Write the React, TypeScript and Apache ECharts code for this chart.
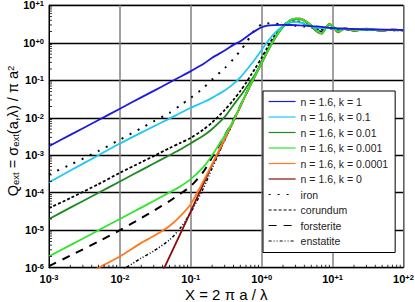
import React, { useEffect, useRef } from "react";
import * as echarts from "echarts";

// Size parameter X = 2 pi a / lambda (shared sampling of all curves)
const xValues = [0.001, 0.002, 0.005, 0.01, 0.02, 0.03, 0.05, 0.07, 0.1, 0.15, 0.2, 0.3, 0.4, 0.5, 0.6, 0.7, 0.8, 1.0, 1.2, 1.5, 2, 2.5, 3, 3.5, 4, 5, 6, 7, 8, 9, 10, 12, 15, 20, 30, 50, 70, 100];

// Q_ext values
const qK1 = [1.74e-3, 3.5e-3, 8.7e-3, 0.0174, 0.035, 0.052, 0.087, 0.122, 0.175, 0.27, 0.4, 0.62, 0.88, 1.1, 1.4, 1.75, 2.05, 2.6, 2.85, 2.97, 3.0, 2.98, 2.95, 2.9, 2.87, 2.8, 2.72, 2.65, 2.58, 2.52, 2.48, 2.43, 2.38, 2.33, 2.28, 2.24, 2.21, 2.19];
const qK01 = [1.9e-4, 3.9e-4, 1.0e-3, 2.05e-3, 4.0e-3, 5.9e-3, 9.5e-3, 0.0132, 0.0185, 0.026, 0.034, 0.053, 0.08, 0.12, 0.18, 0.26, 0.36, 0.65, 1.05, 1.75, 2.8, 3.45, 3.6, 3.45, 3.15, 2.7, 2.5, 2.45, 2.45, 2.45, 2.42, 2.38, 2.34, 2.3, 2.26, 2.23, 2.21, 2.19];
const qK001 = [2.0e-5, 4.0e-5, 1.0e-4, 2.0e-4, 4.0e-4, 6.0e-4, 1.0e-3, 1.4e-3, 2.1e-3, 3.3e-3, 5.0e-3, 0.0105, 0.022, 0.038, 0.062, 0.095, 0.14, 0.3, 0.58, 1.25, 2.7, 3.9, 4.35, 4.3, 3.8, 2.8, 2.1, 1.8, 2.5, 3.1, 2.7, 2.0, 2.4, 2.15, 2.3, 2.2, 2.2, 2.18];
const qK0001 = [2.0e-6, 4.0e-6, 1.0e-5, 2.0e-5, 4.0e-5, 6.0e-5, 1.02e-4, 1.45e-4, 2.3e-4, 4.8e-4, 1.0e-3, 3.3e-3, 8.6e-3, 0.021, 0.043, 0.078, 0.13, 0.29, 0.58, 1.25, 2.7, 3.95, 4.4, 4.35, 3.9, 2.85, 2.1, 1.8, 2.5, 3.15, 2.75, 2.0, 2.4, 2.15, 2.3, 2.15, 2.22, 2.15];
const qK00001 = [2.0e-7, 4.0e-7, 1.0e-6, 2.0e-6, 4.6e-6, 7.0e-6, 1.3e-5, 2.3e-5, 5.0e-5, 2.0e-4, 5.8e-4, 2.7e-3, 8.3e-3, 0.02, 0.042, 0.077, 0.128, 0.285, 0.57, 1.23, 2.68, 3.95, 4.4, 4.38, 3.95, 2.9, 2.05, 1.78, 2.5, 3.2, 2.7, 1.95, 2.45, 2.1, 2.35, 2.1, 2.25, 2.12];
const qK0 = [3.1e-13, 5.0e-12, 1.95e-10, 3.1e-9, 5.0e-8, 2.5e-7, 1.95e-6, 7.5e-6, 3.2e-5, 1.7e-4, 5.5e-4, 2.6e-3, 8.2e-3, 0.02, 0.042, 0.076, 0.127, 0.284, 0.57, 1.22, 2.67, 3.95, 4.4, 4.4, 4.0, 2.92, 2.0, 1.75, 2.5, 3.25, 2.7, 1.9, 2.5, 2.05, 2.4, 2.05, 2.28, 2.1];
const qIron = [3.1e-4, 5.6e-4, 1.3e-3, 2.6e-3, 5.3e-3, 8.0e-3, 0.0135, 0.021, 0.034, 0.062, 0.105, 0.21, 0.37, 0.62, 0.98, 1.55, 2.2, 3.1, 3.3, 3.25, 3.05, 2.95, 2.85, 2.78, 2.72, 2.62, 2.55, 2.5, 2.46, 2.43, 2.4, 2.35, 2.3, 2.26, 2.22, 2.18, 2.16, 2.14];
const qCorundum = [3.9e-5, 7.2e-5, 1.7e-4, 3.4e-4, 6.5e-4, 9.5e-4, 1.55e-3, 2.1e-3, 2.9e-3, 4.8e-3, 7.5e-3, 0.016, 0.03, 0.052, 0.085, 0.135, 0.2, 0.4, 0.75, 1.5, 2.7, 3.5, 3.7, 3.5, 3.2, 2.6, 2.3, 2.3, 2.5, 2.6, 2.5, 2.3, 2.3, 2.25, 2.2, 2.2, 2.2, 2.18];
const qForsterite = [1.1e-6, 2.1e-6, 5.0e-6, 1.0e-5, 2.1e-5, 3.3e-5, 6.0e-5, 9.2e-5, 1.5e-4, 3.6e-4, 8.8e-4, 3.3e-3, 8.8e-3, 0.021, 0.043, 0.078, 0.13, 0.3, 0.6, 1.3, 2.75, 3.9, 4.3, 4.2, 3.7, 2.8, 2.1, 2.0, 2.4, 2.8, 2.7, 2.2, 2.3, 2.2, 2.25, 2.15, 2.2, 2.15];
const qEnstatite = [8e-8, 1.6e-7, 4e-7, 8e-7, 1.8e-6, 2.8e-6, 5.5e-6, 1.1e-5, 3.0e-5, 1.3e-4, 4.5e-4, 2.5e-3, 7.8e-3, 0.02, 0.042, 0.076, 0.127, 0.29, 0.58, 1.25, 2.7, 3.9, 4.35, 4.3, 3.8, 2.8, 2.0, 1.9, 2.5, 3.0, 2.8, 2.1, 2.35, 2.2, 2.3, 2.15, 2.2, 2.15];

const legendNames = [
  "n = 1.6, k = 1",
  "n = 1.6, k = 0.1",
  "n = 1.6, k = 0.01",
  "n = 1.6, k = 0.001",
  "n = 1.6, k = 0.0001",
  "n = 1.6, k = 0",
  "iron",
  "corundum",
  "forsterite",
  "enstatite",
];

// axis ranges and tick decades
const xMin = 1e-3;
const xMax = 1e2;
const yMin = 1e-6;
const yMax = 1e1;
const xDecades = [-3, -2, -1, 0, 1];
const yDecades = [-6, -5, -4, -3, -2, -1, 0];
const minorMultipliers = [2, 3, 4, 5, 6, 7, 8, 9];

const FONT = "'Liberation Sans', Arial, Helvetica, sans-serif";

function powLabel(v: number) {
  const e = Math.round(Math.log10(v));
  return `{b|10}{s|${e >= 0 ? "+" : ""}${e}}`;
}

const labelRich = {
  b: { fontSize: 11, fontWeight: "bold", fontFamily: FONT, color: "#000", lineHeight: 11 },
  s: { fontSize: 7.5, fontWeight: "bold", fontFamily: FONT, color: "#000", lineHeight: 6, verticalAlign: "top" },
};

function lineSeries(name: string, values: number[], color: string, width: number, type: any) {
  return {
    type: "line",
    name,
    data: xValues.map((x, i) => [x, values[i]]),
    symbol: "none",
    showSymbol: false,
    smooth: 0.25,
    clip: true,
    silent: true,
    lineStyle: { color, width, type, cap: "butt" },
    itemStyle: { color },
  };
}

export default function App() {
  const ref = useRef<HTMLDivElement>(null);
  useEffect(() => {
    if (!ref.current) return;
    const chart = echarts.init(ref.current, undefined, { renderer: "svg" });

    const bottomMinor: number[][] = [];
    xDecades.forEach((d) => minorMultipliers.forEach((m) => bottomMinor.push([m * Math.pow(10, d), yMin])));
    const leftMinor: number[][] = [];
    yDecades.forEach((d) => minorMultipliers.forEach((m) => leftMinor.push([xMin, m * Math.pow(10, d)])));

    chart.setOption({
      animation: false,
      backgroundColor: "#fff",
      grid: {
        left: 49,
        top: 5.3,
        right: 11.5,
        bottom: 34.3,
        show: true,
        borderColor: "#000",
        borderWidth: 1,
        backgroundColor: "transparent",
        containLabel: false,
        outerBoundsMode: "none",
      },
      legend: {
        data: legendNames,
        orient: "vertical",
        left: 263,
        top: 91,
        padding: [5, 7, 6, 5],
        itemGap: 4.5,
        itemWidth: 27,
        itemHeight: 12,
        backgroundColor: "#fff",
        borderColor: "#000",
        borderWidth: 1,
        selectedMode: false,
        lineStyle: { width: 1.2 },
        itemStyle: { opacity: 0, color: "transparent", borderWidth: 0 },
        textStyle: { fontSize: 10.5, color: "#222", fontFamily: FONT },
      },
      xAxis: {
        type: "log",
        logBase: 10,
        min: xMin,
        max: xMax,
        name: "X = 2 π a / λ",
        nameLocation: "middle",
        nameGap: 19,
        nameMoveOverlap: false,
        nameTextStyle: { fontSize: 15, fontFamily: FONT, color: "#000" },
        axisLine: { show: true, lineStyle: { color: "#000", width: 1 } },
        axisTick: { show: false },
        axisLabel: { formatter: powLabel, rich: labelRich, margin: 6 },
        splitLine: { show: true, lineStyle: { color: "#808080", width: 1.5 } },
      },
      yAxis: {
        type: "log",
        logBase: 10,
        min: yMin,
        max: yMax,
        name: "Q{sub|ext} = σ{sub|ext}(a,λ) / π a{sup|2}",
        nameLocation: "middle",
        nameRotate: 90,
        nameGap: 29,
        nameMoveOverlap: false,
        nameTextStyle: {
          fontSize: 14.5,
          fontFamily: FONT,
          color: "#000",
          lineHeight: 15,
          padding: [0, 0, 0, 11],
          rich: {
            sub: { fontSize: 9.5, fontFamily: FONT, color: "#000", lineHeight: 8, verticalAlign: "bottom" },
            sup: { fontSize: 9.5, fontFamily: FONT, color: "#000", lineHeight: 8, verticalAlign: "top" },
          },
        },
        axisLine: { show: true, lineStyle: { color: "#000", width: 1 } },
        axisTick: { show: false },
        axisLabel: { formatter: powLabel, rich: labelRich, margin: 5 },
        splitLine: { show: true, lineStyle: { color: "#000", width: 1.3 } },
      },
      series: [
        lineSeries("iron", qIron, "#000", 2, [2, 7]),
        lineSeries("corundum", qCorundum, "#000", 1.8, [3, 2]),
        lineSeries("forsterite", qForsterite, "#000", 2, [8, 7]),
        lineSeries("enstatite", qEnstatite, "#000", 1.5, [3, 2, 1, 2, 1, 2]),
        lineSeries("n = 1.6, k = 0", qK0, "#8b0a0a", 1.8, "solid"),
        lineSeries("n = 1.6, k = 0.0001", qK00001, "#ff7a1f", 1.8, "solid"),
        lineSeries("n = 1.6, k = 0.01", qK001, "#1f8a1f", 1.8, "solid"),
        lineSeries("n = 1.6, k = 0.001", qK0001, "#2ee62e", 1.8, "solid"),
        lineSeries("n = 1.6, k = 0.1", qK01, "#1ec8f5", 1.8, "solid"),
        lineSeries("n = 1.6, k = 1", qK1, "#1a1ae0", 1.8, "solid"),
        {
          type: "scatter",
          name: "bottomMinor",
          data: bottomMinor,
          symbol: "rect",
          symbolSize: [1, 3],
          symbolOffset: [0, -1.5],
          itemStyle: { color: "#000" },
          silent: true,
          clip: false,
          z: 5,
        },
        {
          type: "scatter",
          name: "leftMinor",
          data: leftMinor,
          symbol: "rect",
          symbolSize: [3, 1],
          symbolOffset: [1.5, 0],
          itemStyle: { color: "#000" },
          silent: true,
          clip: false,
          z: 5,
        },
      ],
    });
    return () => chart.dispose();
  }, []);
  return <div ref={ref} style={{ position: "absolute", left: 0, top: 0, width: 415, height: 302 }} />;
}
